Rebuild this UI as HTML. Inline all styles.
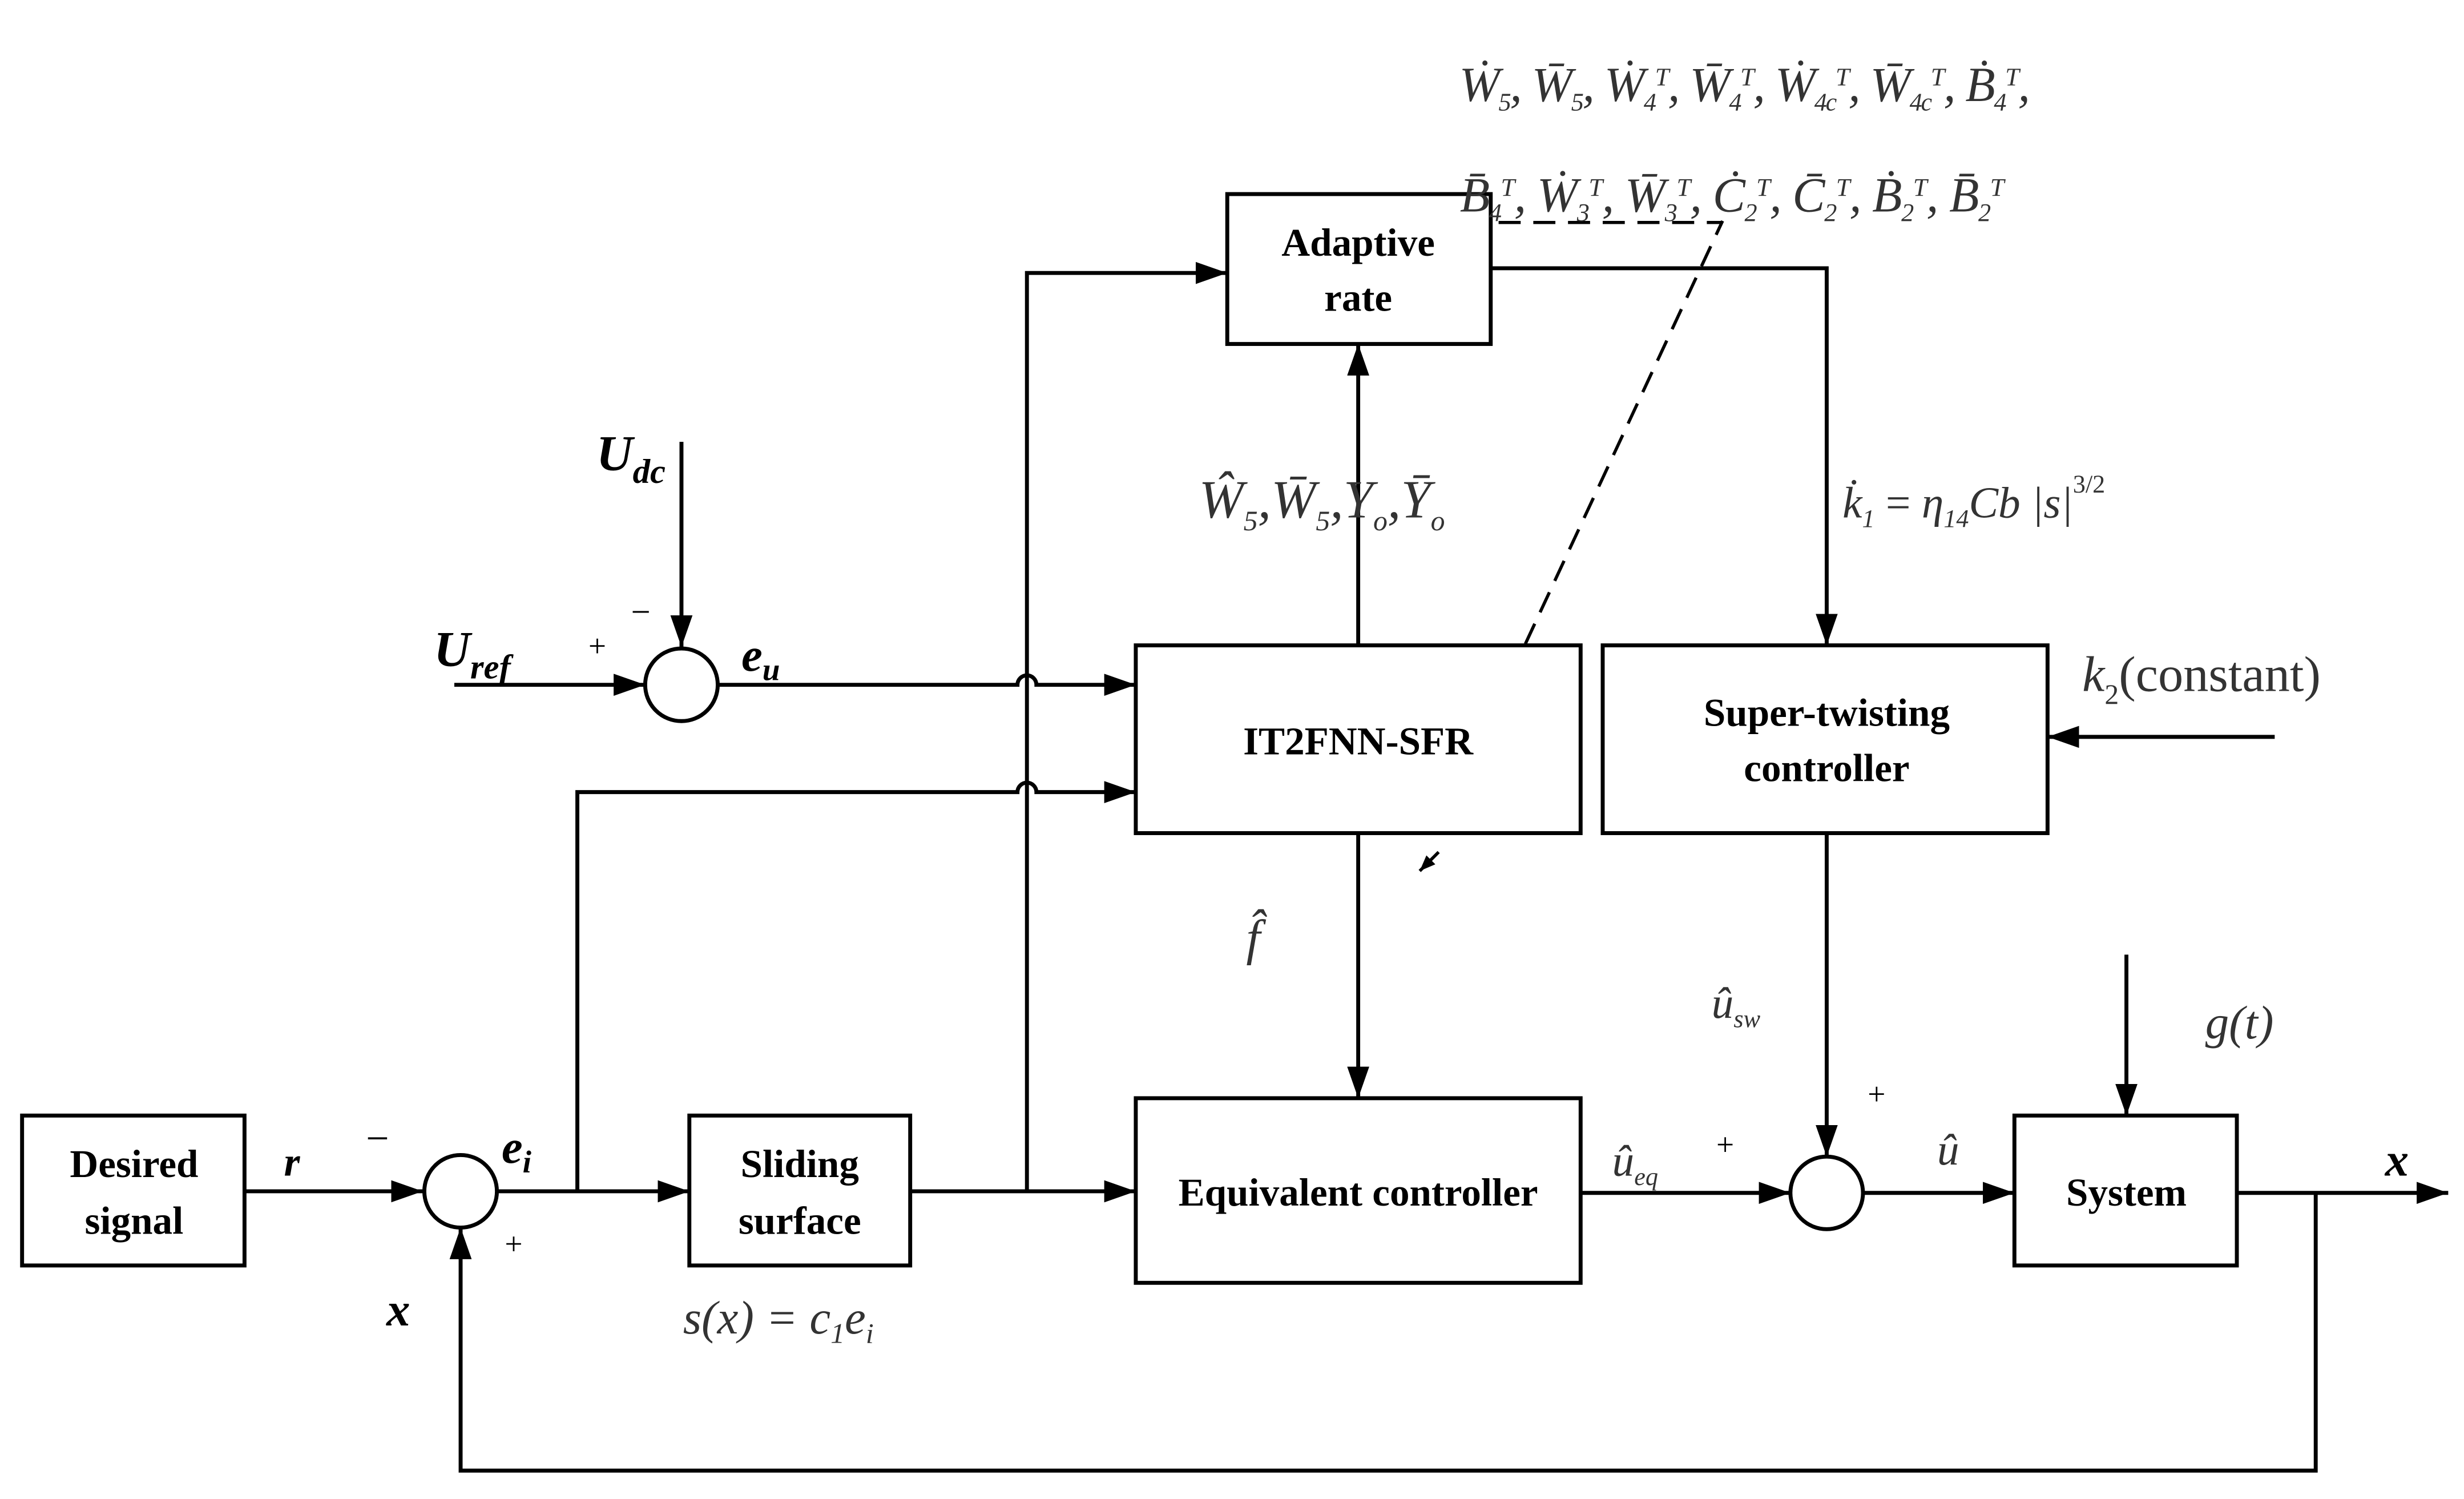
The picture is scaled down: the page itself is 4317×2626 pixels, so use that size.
<!DOCTYPE html>
<html><head><meta charset="utf-8"><style>html,body{margin:0;padding:0;background:#fff}svg{display:block}</style></head><body>
<svg width="4317" height="2626" viewBox="0 0 1562 950" preserveAspectRatio="none" xmlns="http://www.w3.org/2000/svg">
<defs><marker id="a" markerWidth="10" markerHeight="8" refX="10" refY="4" orient="auto" markerUnits="userSpaceOnUse"><path d="M0,0 L10,4 L0,8 Z" fill="#000"/></marker>
<marker id="b" markerWidth="20" markerHeight="14" refX="20" refY="7" orient="auto" markerUnits="userSpaceOnUse"><path d="M0,0 L20,7 L0,14 Z" fill="#000"/></marker></defs>
<g fill="none" stroke="#000" stroke-width="2.5">
<rect x="14" y="707" width="141" height="95"/>
<rect x="437" y="707" width="140" height="95"/>
<rect x="720" y="696" width="282" height="117"/>
<rect x="778" y="123" width="167" height="95"/>
<rect x="720" y="409" width="282" height="119"/>
<rect x="1016" y="409" width="282" height="119"/>
<rect x="1277" y="707" width="141" height="95"/>
<circle cx="292" cy="755" r="23"/>
<circle cx="432" cy="434" r="23"/>
<circle cx="1158" cy="756" r="23"/>
<g marker-end="url(#b)">
<path d="M155,755 H268"/>
<path d="M315,755 H437"/>
<path d="M366,755 V502 H645 A6,6 0 0 1 657,502 H720"/>
<path d="M577,755 H720"/>
<path d="M651,755 V173 H778"/>
<path d="M861,409 V218"/>
<path d="M945,170 H1158 V409"/>
<path d="M432,280 V410"/>
<path d="M288,434 H409"/>
<path d="M455,434 H645 A6,6 0 0 1 657,434 H720"/>
<path d="M861,528 V696"/>
<path d="M1158,528 V733"/>
<path d="M1442,467 H1298"/>
<path d="M1002,756 H1135"/>
<path d="M1181,756 H1277"/>
<path d="M1348,605 V707"/>
<path d="M1418,756 H1552"/>
<path d="M1468,756 V932 H292 V778"/>
</g>
<path d="M967,408 L1092,140" stroke-dasharray="14,8" stroke-width="2"/>
<path d="M950,141 H1092" stroke-dasharray="14,8" stroke-width="2"/>
<path d="M912,540 L900,552" stroke-width="2" marker-end="url(#a)"/>
</g>
<g font-family="Liberation Serif, serif" font-weight="bold" font-size="25" text-anchor="middle" fill="#000">
<text x="85" y="746">Desired</text><text x="85" y="782">signal</text>
<text x="507" y="746">Sliding</text><text x="507" y="782">surface</text>
<text x="861" y="764">Equivalent controller</text>
<text x="861" y="162">Adaptive</text><text x="861" y="197">rate</text>
<text x="861" y="478">IT2FNN-SFR</text>
<text x="1158" y="460">Super-twisting</text><text x="1158" y="495">controller</text>
<text x="1348" y="764">System</text>
</g>
<g font-family="Liberation Serif, serif" font-size="26" fill="#000">
<text x="180" y="745" font-weight="bold" font-style="italic">r</text>
<text x="232" y="730">−</text>
<text x="320" y="795" font-size="20">+</text>
<text x="318" y="737" font-weight="bold" font-style="italic" font-size="30">e<tspan font-size="20" dy="6">i</tspan></text>
<text x="245" y="840" font-weight="bold" font-style="italic" font-size="30">x</text>
<text x="378" y="298" font-weight="bold" font-style="italic" font-size="32">U<tspan font-size="22" dy="8">dc</tspan></text>
<text x="400" y="395" font-size="22">−</text>
<text x="275" y="422" font-weight="bold" font-style="italic" font-size="32">U<tspan font-size="22" dy="8">ref</tspan></text>
<text x="373" y="416" font-size="20">+</text>
<text x="470" y="425" font-weight="bold" font-style="italic" font-size="30">e<tspan font-size="20" dy="6">u</tspan></text>
<text x="760" y="328" font-style="italic" font-size="34" fill="#333">Ŵ<tspan font-size="18" dy="8">5</tspan><tspan dy="-8">,W̄</tspan><tspan font-size="18" dy="8">5</tspan><tspan dy="-8">,Y</tspan><tspan font-size="18" dy="8">o</tspan><tspan dy="-8">,Ȳ</tspan><tspan font-size="18" dy="8">o</tspan></text>
<text x="1168" y="328" font-style="italic" font-size="28" fill="#333">k̇<tspan font-size="16" dy="6">1</tspan><tspan dy="-6" font-style="normal"> = </tspan>η<tspan font-size="16" dy="6">14</tspan><tspan dy="-6">Cb |s|</tspan><tspan font-size="16" dy="-16" font-style="normal">3/2</tspan></text>
<text x="1320" y="438" font-size="32" fill="#333"><tspan font-style="italic">k</tspan><tspan font-size="18" dy="8">2</tspan><tspan dy="-8">(constant)</tspan></text>
<text x="790" y="605" font-style="italic" font-size="32" fill="#333">f̂</text>
<text x="1085" y="645" font-style="italic" font-size="28" fill="#333">û<tspan font-size="16" dy="6">sw</tspan></text>
<text x="1184" y="700" font-size="20">+</text>
<text x="1022" y="745" font-style="italic" font-size="28" fill="#333">û<tspan font-size="16" dy="6">eq</tspan></text>
<text x="1088" y="732" font-size="20">+</text>
<text x="1228" y="738" font-style="italic" font-size="28" fill="#333">û</text>
<text x="1398" y="658" font-style="italic" font-size="30" fill="#333">g(t)</text>
<text x="1512" y="745" font-weight="bold" font-style="italic" font-size="30">x</text>
<text x="433" y="845" font-style="italic" font-size="30" fill="#333">s(x) = c<tspan font-size="18" dy="6">1</tspan><tspan dy="-6">e</tspan><tspan font-size="18" dy="6">i</tspan></text>
<text x="925" y="64" font-style="italic" font-size="31" fill="#333" textLength="362">Ẇ<tspan font-size="16" dy="6">5</tspan><tspan dy="-6">, W̄</tspan><tspan font-size="16" dy="6">5</tspan><tspan dy="-6">, Ẇ</tspan><tspan font-size="16" dy="6">4</tspan><tspan font-size="16" dy="-16">T</tspan><tspan dy="10">, W̄</tspan><tspan font-size="16" dy="6">4</tspan><tspan font-size="16" dy="-16">T</tspan><tspan dy="10">, Ẇ</tspan><tspan font-size="16" dy="6">4c</tspan><tspan font-size="16" dy="-16">T</tspan><tspan dy="10">, W̄</tspan><tspan font-size="16" dy="6">4c</tspan><tspan font-size="16" dy="-16">T</tspan><tspan dy="10">, Ḃ</tspan><tspan font-size="16" dy="6">4</tspan><tspan font-size="16" dy="-16">T</tspan><tspan dy="10">,</tspan></text>
<text x="925" y="134" font-style="italic" font-size="31" fill="#333" textLength="345">B̄<tspan font-size="16" dy="6">4</tspan><tspan font-size="16" dy="-16">T</tspan><tspan dy="10">, Ẇ</tspan><tspan font-size="16" dy="6">3</tspan><tspan font-size="16" dy="-16">T</tspan><tspan dy="10">, W̄</tspan><tspan font-size="16" dy="6">3</tspan><tspan font-size="16" dy="-16">T</tspan><tspan dy="10">, Ċ</tspan><tspan font-size="16" dy="6">2</tspan><tspan font-size="16" dy="-16">T</tspan><tspan dy="10">, C̄</tspan><tspan font-size="16" dy="6">2</tspan><tspan font-size="16" dy="-16">T</tspan><tspan dy="10">, Ḃ</tspan><tspan font-size="16" dy="6">2</tspan><tspan font-size="16" dy="-16">T</tspan><tspan dy="10">, B̄</tspan><tspan font-size="16" dy="6">2</tspan><tspan font-size="16" dy="-16">T</tspan></text>
</g>
</svg>
</body></html>
